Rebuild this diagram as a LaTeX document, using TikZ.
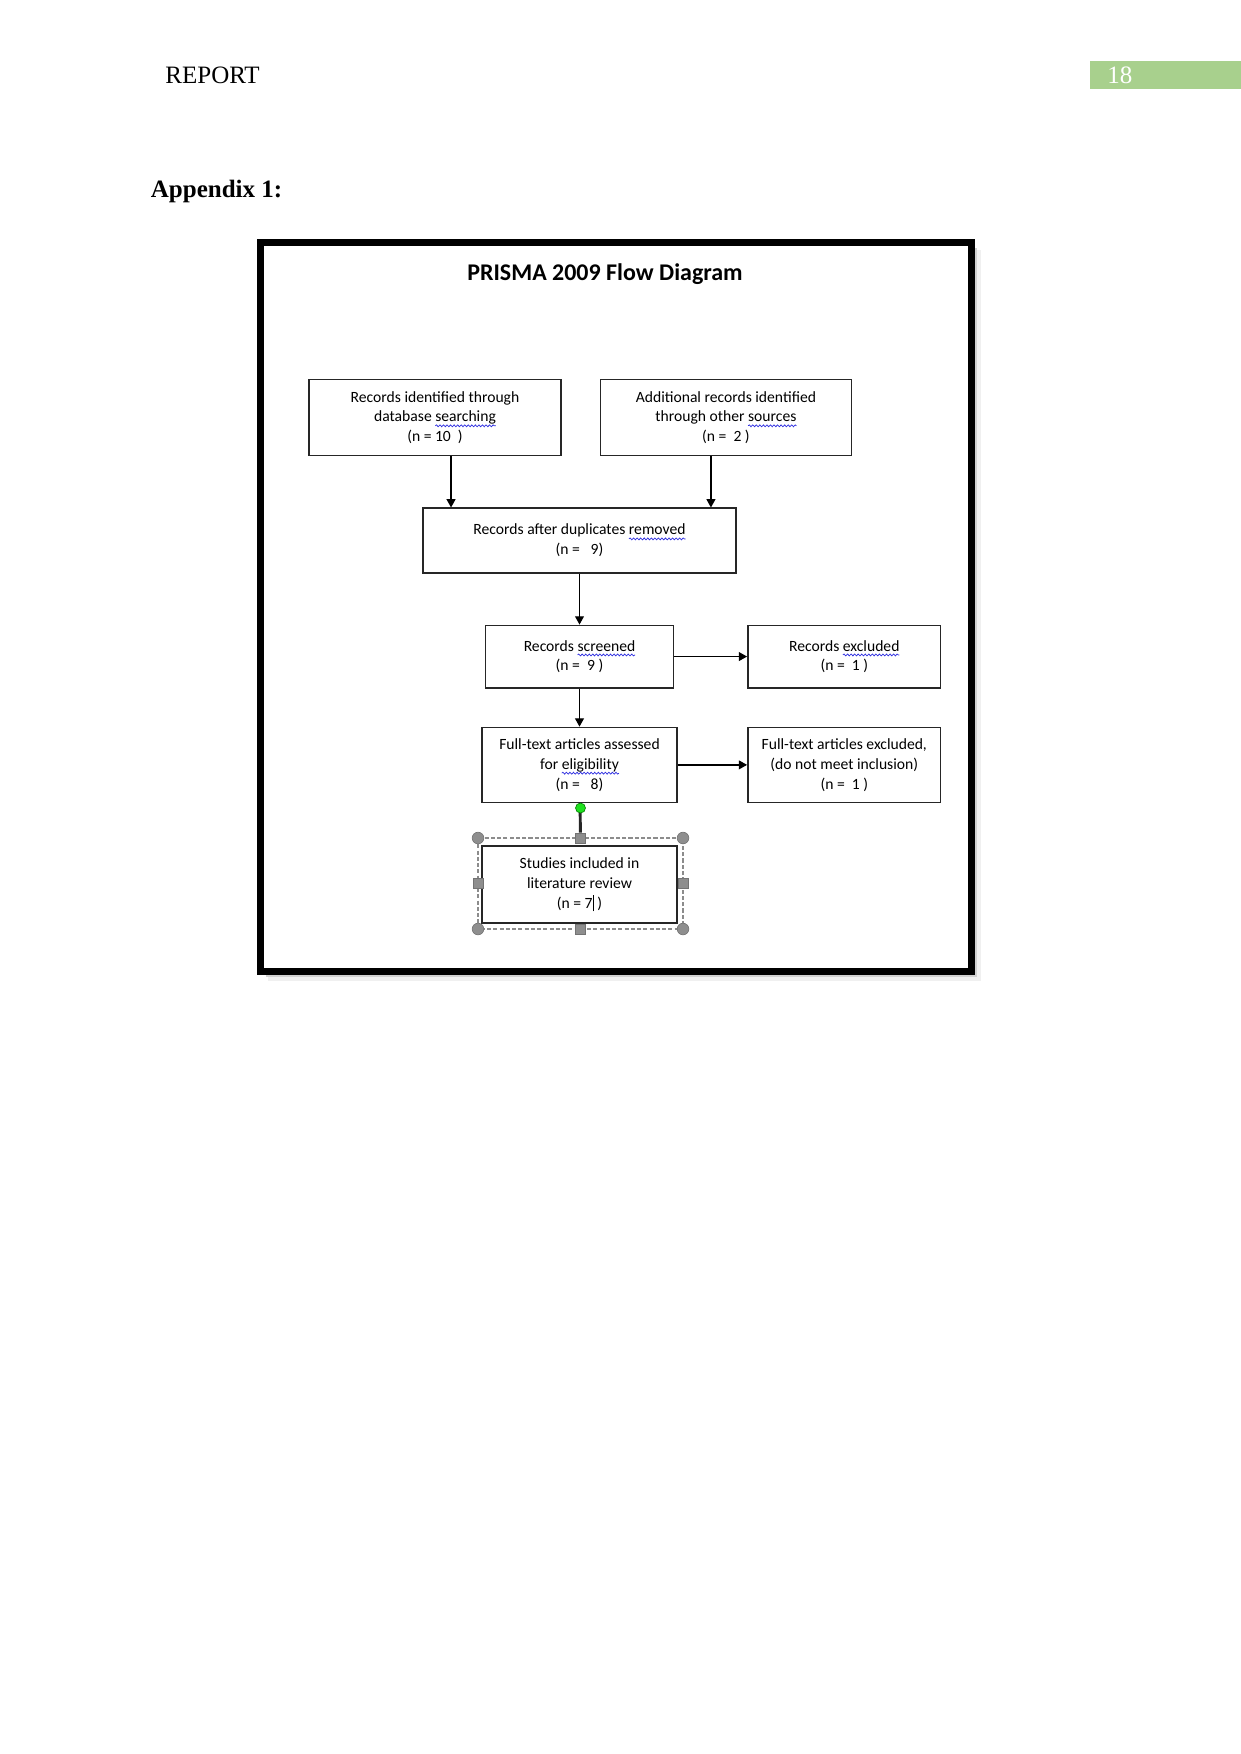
\documentclass[tikz,border=0pt]{standalone}
\usepackage{fontspec}
\setmainfont{Liberation Serif}
\newfontfamily\boxfont{Carlito}
\usepackage{tikz}
\usetikzlibrary{arrows.meta,positioning,decorations.pathmorphing}
\definecolor{pageGreen}{HTML}{A8D08D}
\definecolor{handleGray}{HTML}{8E8E8E}
\definecolor{handleGreen}{HTML}{1EE01E}
\definecolor{spellBlue}{HTML}{3030E0}
\newlength{\spellwd}
\newcommand{\spellmark}[1]{\settowidth{\spellwd}{#1}%
  \tikz[overlay]\draw[spellBlue, line width=0.35pt, decorate,
    decoration={snake, amplitude=0.45pt, segment length=1.7pt}]
    (0pt,-1.9pt) -- (\spellwd,-1.9pt);#1}
\tikzset{
  flow/.style={-{Triangle[length=1.4mm,width=1.5mm]}, line width=0.6pt},
  link/.style={line width=1.4pt, draw=black!85},
  prisma box/.style={draw=black!85, line width=0.7pt, align=center,
    font=\boxfont\fontsize{7.5}{9.5}\selectfont, inner sep=2pt},
  select frame/.style={draw=black!45, dash pattern=on 2pt off 1pt,
    line width=0.5pt},
  corner handle/.style={circle, fill=handleGray, draw=black!55,
    line width=0.3pt, minimum size=5.6pt, inner sep=0pt},
  side handle/.style={rectangle, fill=handleGray, draw=black!55,
    line width=0.3pt, minimum size=4.8pt, inner sep=0pt},
  page text/.style={anchor=base west, inner sep=0pt,
    font=\fontsize{12}{14}\selectfont}
}
\begin{document}
\begin{tikzpicture}[x=0.48pt, y=-0.48pt]
  \useasboundingbox (0,0) rectangle (1241,1754);
  % page header
  \node[page text] (header) at (165,83) {REPORT};
  \node[fill=pageGreen, anchor=north west, minimum width=72.5pt,
    minimum height=13.4pt, inner sep=0pt] (pagetab) at (1090,61) {};
  \node[page text, text=white] (pagenum) at (1107,83) {18};
  \node[page text, font=\bfseries\fontsize{12}{14}\selectfont] (appendix)
    at (150.5,197) {Appendix 1:};
  % frame with shadow
  \draw[black!6, line width=3pt] (268,978) -- (978,978) -- (978,250);
  \draw[black!18, line width=1.5pt] (266,975.5) -- (975.5,975.5) -- (975.5,248);
  \draw[line width=3.2pt] (260.5,242.5) rectangle (971.5,971.5);
  \node[font=\boxfont\bfseries\fontsize{11.5}{14}\selectfont] (title)
    at (605,274) {PRISMA 2009 Flow Diagram};
  % identification
  \node[prisma box, minimum width=121pt, minimum height=36.5pt] (dbsearch)
    at (435,417.5) {Records identified through\\database \spellmark{searching}\\(n = 10~~)};
  \node[prisma box, minimum width=120.5pt, minimum height=36.5pt,
    right=18.2pt of dbsearch] (othersrc)
    {Additional records identified\\through other \spellmark{sources}\\(n =~~2 )};
  \node[prisma box, minimum width=150.2pt, minimum height=31pt] (dedup)
    at (579.5,540.5) {Records after duplicates \spellmark{removed}\\(n =~~~9)};
  % screening
  \node[prisma box, minimum width=90.2pt, minimum height=30pt,
    below=24.5pt of dedup] (screened) {Records \spellmark{screened}\\(n =~~9 )};
  \node[prisma box, minimum width=92.6pt, minimum height=30pt,
    right=35pt of screened] (excluded) {Records \spellmark{excluded}\\(n =~~1 )};
  % eligibility
  \node[prisma box, minimum width=93.6pt, minimum height=36pt,
    below=18.3pt of screened] (fulltext)
    {Full-text articles assessed\\for \spellmark{eligibility}\\(n =~~~8)};
  \node[prisma box, minimum width=92.6pt, minimum height=36pt,
    below=18.3pt of excluded] (ftexcl)
    {Full-text articles excluded,\\(do not meet inclusion)\\(n =~~1 )};
  % included
  \node[prisma box, minimum width=93.6pt, minimum height=37pt,
    below=20.3pt of fulltext] (included)
    {Studies included in\\literature review\\(n = 7\rule[-1.5pt]{0.6pt}{8pt}~)};
  % connectors
  \draw[flow] ([xshift=7.7pt]dbsearch.south) -- ([xshift=7.7pt]dbsearch.south |- dedup.north);
  \draw[flow] ([xshift=-7.2pt]othersrc.south) -- ([xshift=-7.2pt]othersrc.south |- dedup.north);
  \draw[flow] (dedup) -- (screened);
  \draw[flow] (screened) -- (excluded);
  \draw[flow] (screened) -- (fulltext);
  \draw[flow] (fulltext) -- (ftexcl);
  % selection handles round the last box
  \draw[select frame] (478,838) rectangle (683,929);
  \node[side handle] (hN) at (580.5,838) {};
  \node[side handle] (hS) at (580.5,929) {};
  \node[side handle] (hW) at (478,883.5) {};
  \node[side handle] (hE) at (683,883.5) {};
  \node[corner handle] (hNW) at (478,838) {};
  \node[corner handle] (hNE) at (683,838) {};
  \node[corner handle] (hSW) at (478,929) {};
  \node[corner handle] (hSE) at (683,929) {};
  \draw[link] (fulltext) -- (hN);
  \node[circle, fill=handleGreen, draw=green!50!black, line width=0.3pt,
    minimum size=4.8pt, inner sep=0pt] (hRot) at (580.5,808) {};
\end{tikzpicture}
\end{document}
